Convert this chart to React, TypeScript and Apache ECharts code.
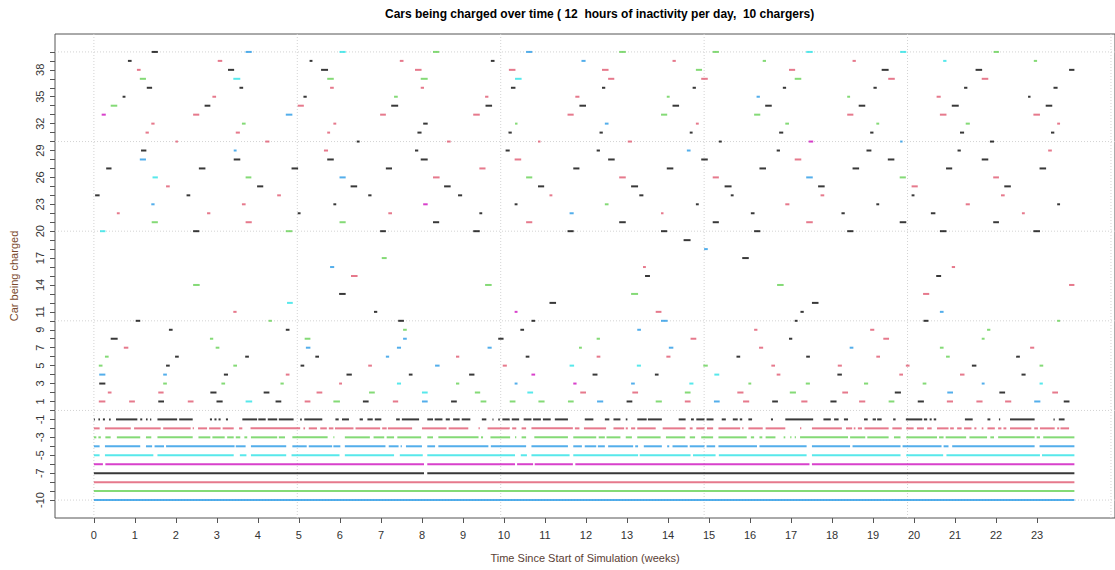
import React, { useEffect, useRef } from "react";
import * as echarts from "echarts";

// ---------- data (weeks since start) ----------
// [car, start, end, colour key]
const carsGroupA: [number, number, number, string][] = [
  [1,0.12,0.28,'r'],[1,0.86,1.00,'r'],[1,1.57,1.71,'k'],[1,2.29,2.43,'r'],[1,2.99,3.14,'k'],[1,3.70,3.86,'c'],[1,4.43,4.57,'k'],[1,5.14,5.28,'r'],[1,5.84,6.00,'g'],[1,6.56,6.70,'k'],[1,7.29,7.42,'r'],[1,8.00,8.14,'b'],[1,8.71,8.85,'k'],[1,9.43,9.57,'g'],[1,10.14,10.28,'g'],[1,10.84,10.99,'g'],[1,11.56,11.70,'g'],[1,12.27,12.42,'b'],[1,12.99,13.13,'k'],[1,13.70,13.85,'g'],[1,14.41,14.55,'r'],[1,15.12,15.26,'b'],[1,15.83,15.98,'r'],[1,16.54,16.68,'k'],[1,17.25,17.40,'r'],[1,17.96,18.11,'k'],[1,18.66,18.81,'r'],[1,19.38,19.52,'g'],[1,20.09,20.24,'k'],[1,20.80,20.95,'r'],[1,21.52,21.67,'r'],[1,22.22,22.37,'r'],[1,22.93,23.08,'b'],[1,23.65,23.79,'k'],
  [2,0.34,0.43,'r'],[2,1.57,1.70,'r'],[2,2.84,2.99,'k'],[2,4.14,4.28,'k'],[2,5.43,5.57,'r'],[2,6.71,6.85,'g'],[2,8.00,8.14,'c'],[2,9.29,9.42,'g'],[2,10.57,10.71,'c'],[2,11.86,12.00,'r'],[2,13.13,13.27,'r'],[2,14.41,14.55,'g'],[2,15.69,15.84,'r'],[2,16.97,17.12,'g'],[2,18.25,18.39,'r'],[2,19.53,19.68,'k'],[2,20.81,20.95,'b'],[2,22.08,22.22,'k'],[2,23.37,23.51,'r'],
  [3,0.13,0.28,'k'],[3,1.69,1.78,'g'],[3,3.11,3.20,'g'],[3,4.55,4.63,'g'],[3,5.98,6.05,'r'],[3,7.39,7.49,'c'],[3,8.83,8.91,'g'],[3,10.26,10.33,'b'],[3,11.69,11.77,'m'],[3,13.10,13.19,'b'],[3,14.52,14.62,'c'],[3,15.96,16.03,'g'],[3,17.36,17.46,'g'],[3,18.78,18.88,'g'],[3,20.21,20.30,'g'],[3,21.65,21.72,'b'],[3,23.06,23.14,'c'],
  [4,0.13,0.28,'b'],[4,1.69,1.78,'b'],[4,3.17,3.27,'k'],[4,4.68,4.77,'r'],[4,6.16,6.29,'k'],[4,7.68,7.77,'k'],[4,9.15,9.28,'k'],[4,10.67,10.76,'m'],[4,12.16,12.28,'k'],[4,13.68,13.77,'k'],[4,15.13,15.25,'c'],[4,16.65,16.74,'r'],[4,18.13,18.24,'k'],[4,19.64,19.73,'r'],[4,21.12,21.23,'r'],[4,22.62,22.72,'k'],
  [5,0.12,0.21,'g'],[5,1.76,1.85,'k'],[5,3.40,3.49,'g'],[5,5.04,5.13,'k'],[5,6.69,6.78,'r'],[5,8.32,8.43,'b'],[5,9.97,10.07,'r'],[5,11.60,11.71,'c'],[5,13.24,13.34,'c'],[5,14.86,14.97,'g'],[5,16.52,16.61,'r'],[5,18.14,18.24,'r'],[5,19.80,19.89,'r'],[5,21.41,21.52,'k'],[5,23.06,23.15,'g'],
  [6,0.27,0.36,'g'],[6,1.98,2.07,'k'],[6,3.69,3.78,'k'],[6,5.40,5.49,'k'],[6,7.12,7.20,'b'],[6,8.83,8.91,'r'],[6,10.53,10.62,'k'],[6,12.26,12.35,'r'],[6,13.96,14.06,'r'],[6,15.67,15.76,'k'],[6,17.37,17.46,'k'],[6,19.08,19.17,'r'],[6,20.78,20.87,'g'],[6,22.49,22.58,'k'],
  [7,0.73,0.84,'r'],[7,2.97,3.06,'g'],[7,5.17,5.28,'b'],[7,7.39,7.49,'b'],[7,9.60,9.70,'b'],[7,11.83,11.90,'g'],[7,14.02,14.13,'b'],[7,16.22,16.32,'r'],[7,18.43,18.52,'b'],[7,20.63,20.72,'g'],[7,22.83,22.93,'r'],
  [8,0.41,0.58,'k'],[8,2.83,2.91,'g'],[8,5.14,5.28,'g'],[8,7.54,7.63,'b'],[8,9.86,9.99,'k'],[8,12.26,12.34,'g'],[8,14.55,14.69,'r'],[8,16.95,17.03,'k'],[8,19.25,19.39,'r'],[8,21.65,21.72,'g'],
  [9,1.83,1.92,'k'],[9,4.68,4.77,'k'],[9,7.54,7.63,'g'],[9,10.40,10.49,'k'],[9,13.25,13.34,'b'],[9,16.10,16.18,'r'],[9,18.93,19.03,'r'],[9,21.78,21.86,'g'],
  [10,1.02,1.13,'k'],[10,4.26,4.34,'g'],[10,7.42,7.56,'k'],[10,10.67,10.76,'k'],[10,13.83,13.99,'b'],[10,17.09,17.16,'k'],[10,20.23,20.35,'k'],[10,23.49,23.56,'g'],
];

const carsGroupB: [number, number, number, string][] = [
  [11,3.40,3.48,'r'],[11,6.83,6.91,'k'],[11,10.26,10.33,'m'],[11,13.70,13.84,'r'],[11,17.23,17.31,'k'],[11,20.63,20.72,'b'],
  [12,4.71,4.85,'c'],[12,11.11,11.27,'k'],[12,17.51,17.67,'k'],
  [13,5.98,6.14,'k'],[13,13.10,13.27,'g'],[13,20.22,20.37,'r'],
  [14,2.42,2.58,'g'],[14,9.54,9.70,'g'],[14,16.66,16.82,'g'],[14,23.78,23.91,'r'],
  [15,6.27,6.43,'r'],[15,13.44,13.56,'k'],[15,20.54,20.66,'k'],
  [16,5.76,5.86,'b'],[16,13.39,13.46,'r'],[16,20.92,21.00,'r'],
  [17,7.02,7.14,'g'],[17,15.81,15.97,'k'],
  [18,14.88,14.97,'b'],
  [19,14.38,14.55,'k'],
  [20,0.15,0.28,'c'],[20,2.42,2.57,'k'],[20,4.68,4.84,'g'],[20,6.98,7.12,'k'],[20,9.25,9.41,'k'],[20,11.55,11.70,'k'],[20,13.83,13.98,'k'],[20,16.10,16.25,'k'],[20,18.37,18.52,'k'],[20,20.63,20.79,'k'],[20,22.91,23.07,'k'],
];

const carsGroupC: [number, number, number, string][] = [
  [21,1.41,1.56,'g'],[21,3.70,3.85,'r'],[21,5.99,6.14,'g'],[21,8.27,8.42,'k'],[21,10.54,10.69,'r'],[21,12.81,12.97,'k'],[21,15.09,15.24,'k'],[21,17.37,17.53,'r'],[21,19.65,19.81,'k'],[21,21.93,22.07,'k'],
  [22,0.56,0.63,'r'],[22,2.76,2.84,'r'],[22,4.97,5.04,'k'],[22,7.18,7.27,'r'],[22,9.40,9.47,'k'],[22,11.60,11.70,'b'],[22,13.83,13.89,'r'],[22,16.02,16.11,'k'],[22,18.23,18.31,'k'],[22,20.41,20.52,'k'],[22,22.63,22.70,'r'],
  [23,1.40,1.48,'b'],[23,3.61,3.70,'r'],[23,5.84,5.91,'k'],[23,8.03,8.14,'m'],[23,10.26,10.33,'k'],[23,12.46,12.55,'g'],[23,14.68,14.75,'k'],[23,16.86,16.96,'r'],[23,19.08,19.15,'k'],[23,21.26,21.36,'r'],[23,23.49,23.56,'k'],
  [24,0.03,0.14,'k'],[24,2.26,2.35,'k'],[24,4.47,4.56,'r'],[24,6.69,6.77,'k'],[24,8.88,8.98,'k'],[24,11.11,11.18,'r'],[24,13.30,13.40,'k'],[24,15.53,15.60,'k'],[24,17.72,17.81,'r'],[24,19.94,20.01,'k'],[24,22.12,22.21,'r'],
  [25,1.76,1.85,'r'],[25,3.98,4.13,'k'],[25,6.26,6.42,'k'],[25,8.54,8.70,'k'],[25,10.83,10.98,'k'],[25,13.10,13.27,'k'],[25,15.38,15.55,'k'],[25,17.66,17.82,'k'],[25,19.94,20.09,'r'],[25,22.20,22.36,'k'],
  [26,1.43,1.56,'c'],[26,3.70,3.84,'g'],[26,5.99,6.14,'b'],[26,8.27,8.43,'r'],[26,10.54,10.69,'g'],[26,12.81,12.97,'r'],[26,15.09,15.24,'r'],[26,17.37,17.53,'b'],[26,19.65,19.80,'g'],[26,21.93,22.07,'r'],
  [27,0.30,0.43,'k'],[27,2.56,2.72,'k'],[27,4.82,4.98,'k'],[27,7.12,7.27,'k'],[27,9.40,9.55,'r'],[27,11.69,11.84,'k'],[27,13.97,14.13,'k'],[27,16.23,16.39,'k'],[27,18.50,18.66,'k'],[27,20.78,20.93,'k'],[27,23.06,23.22,'k'],
  [28,1.12,1.27,'b'],[28,3.41,3.57,'k'],[28,5.69,5.85,'k'],[28,7.97,8.14,'k'],[28,10.26,10.42,'r'],[28,12.54,12.70,'k'],[28,14.81,14.97,'k'],[28,17.09,17.25,'r'],[28,19.36,19.52,'k'],[28,21.65,21.81,'k'],
  [29,1.15,1.28,'k'],[29,3.41,3.48,'b'],[29,5.61,5.71,'r'],[29,7.83,7.91,'k'],[29,10.04,10.14,'k'],[29,12.26,12.34,'k'],[29,14.46,14.55,'b'],[29,16.65,16.73,'k'],[29,18.84,18.96,'k'],[29,21.06,21.14,'k'],[29,23.27,23.36,'r'],
  [30,1.99,2.05,'r'],[30,4.18,4.28,'r'],[30,6.41,6.48,'k'],[30,8.61,8.70,'r'],[30,10.83,10.89,'r'],[30,13.02,13.12,'r'],[30,15.24,15.31,'k'],[30,17.43,17.54,'m'],[30,19.66,19.72,'b'],[30,21.85,21.95,'k'],
];

const carsGroupD: [number, number, number, string][] = [
  [31,1.26,1.34,'r'],[31,3.46,3.56,'r'],[31,5.69,5.76,'r'],[31,7.89,7.99,'k'],[31,10.11,10.19,'k'],[31,12.33,12.41,'k'],[31,14.53,14.60,'k'],[31,16.71,16.81,'k'],[31,18.93,19.01,'k'],[31,21.12,21.22,'k'],[31,23.34,23.42,'k'],
  [32,1.40,1.48,'r'],[32,3.61,3.70,'g'],[32,5.84,5.91,'r'],[32,8.03,8.14,'k'],[32,10.27,10.33,'g'],[32,12.46,12.55,'b'],[32,14.68,14.75,'r'],[32,16.86,16.95,'g'],[32,19.08,19.15,'g'],[32,21.26,21.36,'g'],[32,23.49,23.56,'r'],
  [33,0.19,0.29,'m'],[33,2.42,2.57,'r'],[33,4.68,4.84,'b'],[33,6.98,7.12,'r'],[33,9.25,9.41,'r'],[33,11.55,11.70,'r'],[33,13.83,13.98,'g'],[33,16.10,16.25,'g'],[33,18.37,18.52,'r'],[33,20.63,20.79,'r'],[33,22.91,23.07,'r'],
  [34,0.41,0.57,'g'],[34,2.70,2.84,'k'],[34,4.97,5.12,'r'],[34,7.25,7.42,'k'],[34,9.55,9.71,'k'],[34,11.84,12.00,'k'],[34,14.11,14.27,'k'],[34,16.37,16.53,'k'],[34,18.65,18.81,'k'],[34,20.92,21.09,'k'],[34,23.21,23.37,'k'],
  [35,0.70,0.77,'k'],[35,2.89,2.98,'r'],[35,5.11,5.19,'k'],[35,7.32,7.41,'g'],[35,9.54,9.62,'r'],[35,11.74,11.84,'r'],[35,13.97,14.04,'g'],[35,16.16,16.24,'b'],[35,18.37,18.44,'g'],[35,20.55,20.65,'r'],[35,22.78,22.84,'k'],
  [36,1.29,1.42,'k'],[36,3.55,3.64,'k'],[36,5.76,5.85,'r'],[36,7.97,8.05,'r'],[36,10.17,10.28,'k'],[36,12.39,12.47,'k'],[36,14.60,14.68,'k'],[36,16.80,16.88,'k'],[36,19.01,19.09,'k'],[36,21.22,21.30,'k'],[36,23.40,23.50,'k'],
  [37,1.12,1.27,'g'],[37,3.40,3.57,'c'],[37,5.69,5.85,'g'],[37,7.97,8.14,'g'],[37,10.27,10.43,'c'],[37,12.54,12.69,'r'],[37,14.81,14.97,'r'],[37,17.09,17.25,'g'],[37,19.37,19.53,'r'],[37,21.65,21.81,'r'],
  [38,1.05,1.14,'r'],[38,3.27,3.42,'k'],[38,5.54,5.71,'k'],[38,7.83,7.99,'r'],[38,10.12,10.28,'r'],[38,12.39,12.55,'r'],[38,14.68,14.83,'g'],[38,16.95,17.10,'r'],[38,19.21,19.38,'k'],[38,21.50,21.66,'k'],[38,23.78,23.91,'k'],
  [39,0.83,0.92,'k'],[39,3.02,3.13,'r'],[39,5.26,5.33,'k'],[39,7.46,7.55,'r'],[39,9.68,9.77,'k'],[39,11.89,11.99,'b'],[39,14.11,14.19,'r'],[39,16.31,16.39,'g'],[39,18.50,18.58,'r'],[39,20.71,20.79,'c'],[39,22.92,23.00,'g'],
  [40,1.41,1.56,'k'],[40,3.70,3.85,'b'],[40,5.99,6.14,'c'],[40,8.27,8.42,'g'],[40,10.54,10.69,'b'],[40,12.81,12.97,'g'],[40,15.09,15.24,'g'],[40,17.37,17.53,'c'],[40,19.66,19.81,'c'],[40,21.94,22.07,'g'],
];

// charger busy periods [start, end] (weeks); charger k is drawn at y = -k
const charger1: [number, number][] = [[0,0.02],[0.11,0.15],[0.22,0.27],[0.37,0.41],[0.54,1.06],[1.13,1.18],[1.27,1.31],[1.37,1.40],[1.55,2.03],[2.08,2.41],[2.83,2.88],[2.94,2.99],[3.04,3.09],[3.22,3.27],[3.62,3.98],[4.01,4.19],[4.24,4.47],[4.51,4.87],[5.03,5.07],[5.13,5.57],[5.89,5.97],[6.05,6.22],[6.48,6.56],[6.67,6.80],[6.85,7.01],[7.37,7.46],[7.51,7.93],[8.13,8.27],[8.31,8.50],[8.58,8.68],[8.76,8.92],[8.97,9.18],[9.46,9.57],[9.72,9.74],[9.86,9.90],[9.96,10.14],[10.19,10.37],[10.48,10.67],[10.71,10.90],[10.95,11.14],[11.24,11.56],[11.97,12.18],[12.46,12.57],[12.67,12.84],[12.97,13.01],[13.25,13.48],[13.51,13.85],[14.26,14.43],[14.56,14.63],[14.69,14.89],[14.94,15.11],[15.31,15.41],[15.58,15.70],[15.75,15.81],[15.96,16.05],[16.51,16.56],[16.86,17.54],[17.79,17.97],[18.05,18.16],[18.29,18.39],[18.78,18.87],[18.99,19.07],[19.10,19.21],[19.49,19.55],[19.80,20.20],[20.24,20.32],[20.38,20.43],[20.48,20.54],[21.24,21.43],[21.79,21.86],[22.07,22.10],[22.34,22.94],[23.40,23.43],[23.53,23.67]];
const charger2: [number, number][] = [[0,0.14],[0.27,0.90],[0.98,1.63],[1.69,2.36],[2.41,2.44],[2.54,2.76],[2.81,3.09],[3.14,3.41],[3.54,3.62],[3.82,5.03],[5.11,5.15],[5.24,5.44],[5.52,5.68],[5.73,5.84],[5.88,6.33],[6.38,6.98],[7.03,7.14],[7.17,7.76],[8.00,8.60],[8.65,9.13],[9.38,9.41],[9.60,10.14],[10.20,10.30],[10.43,10.54],[10.67,11.68],[11.73,11.84],[11.95,12.49],[12.67,12.93],[12.97,13.02],[13.10,13.20],[13.25,13.70],[13.87,14.43],[14.53,14.60],[14.69,14.89],[14.95,15.10],[15.23,15.76],[15.81,15.84],[15.96,16.31],[16.38,16.86],[17.22,17.25],[17.51,18.24],[18.34,18.49],[18.53,18.57],[18.63,18.73],[18.79,19.38],[19.47,19.70],[19.81,19.99],[20.07,20.24],[20.32,20.43],[20.56,20.84],[20.88,20.97],[21.05,21.16],[21.22,21.40],[21.47,21.52],[21.65,21.69],[21.79,21.97],[22.05,22.13],[22.18,22.25],[22.34,22.86],[22.93,23.02],[23.07,23.43],[23.49,23.54],[23.57,23.78]];
const charger3: [number, number][] = [[0,0.06],[0.11,0.17],[0.28,0.41],[0.56,1.13],[1.27,1.40],[1.55,2.41],[2.55,2.84],[2.89,3.19],[3.25,3.41],[3.46,3.57],[3.67,3.74],[3.83,4.47],[4.51,4.66],[4.84,5.70],[5.84,5.86],[6.12,6.73],[6.82,7.08],[7.14,7.32],[7.40,7.98],[8.13,8.27],[8.40,9.38],[9.44,9.49],[9.67,10.15],[10.27,10.30],[10.43,10.54],[10.74,11.56],[11.69,12.25],[12.31,12.46],[12.50,12.84],[12.97,13.12],[13.25,13.82],[13.95,14.42],[14.53,14.66],[14.81,15.10],[15.23,15.92],[16.02,16.10],[16.23,16.30],[16.38,16.62],[16.82,16.86],[16.98,17.01],[17.09,17.12],[17.22,18.39],[18.44,18.81],[18.86,19.38],[19.51,19.67],[19.81,20.56],[20.61,20.72],[20.77,21.27],[21.35,21.78],[21.86,21.95],[22.05,22.94],[22.99,23.07],[23.15,23.91]];
const charger4: [number, number][] = [[0,0.14],[0.27,1.13],[1.27,1.42],[1.48,1.71],[1.76,3.43],[3.46,3.70],[3.83,4.69],[4.84,5.19],[5.24,5.81],[5.84,6.01],[6.12,7.11],[7.19,7.43],[7.48,7.51],[7.61,8.00],[8.13,8.32],[8.40,9.62],[9.68,10.54],[10.67,11.56],[11.69,11.90],[11.97,12.25],[12.29,12.46],[12.54,13.15],[13.20,13.27],[13.41,13.85],[13.98,14.03],[14.11,14.48],[14.53,14.89],[14.94,15.15],[15.23,16.17],[16.23,17.38],[17.51,18.44],[18.50,19.67],[19.72,20.67],[20.72,20.84],[20.93,22.94],[23.06,23.91]];
const charger5: [number, number][] = [[0,0.14],[0.27,1.45],[1.55,3.41],[3.56,3.72],[3.83,4.69],[4.82,5.99],[6.12,7.32],[7.46,8.02],[8.13,10.27],[10.41,10.56],[10.67,11.60],[11.69,13.27],[13.31,14.55],[14.61,15.16],[15.24,17.38],[17.51,19.67],[19.81,20.71],[20.79,23.07],[23.12,23.91]];
const charger6: [number, number][] = [[0,0.22],[0.28,8.05],[8.13,10.27],[10.32,10.71],[10.75,11.68],[11.74,17.45],[17.51,23.91]];
const charger7: [number, number][] = [[0,8.05],[8.13,23.91]];
const charger8: [number, number][] = [[0,23.91]];
const charger9: [number, number][] = [[0,23.91]];
const charger10: [number, number][] = [[0,23.91]];

const chargers = [charger1, charger2, charger3, charger4, charger5, charger6, charger7, charger8, charger9, charger10];
const chargerColourKeys = ['k', 'r', 'g', 'b', 'c', 'm', 'k', 'r', 'g', 'b'];

const weekTicks = Array.from({ length: 24 }, (_, i) => i); // 0..23
const yTicks = Array.from({ length: 51 }, (_, i) => i - 10); // -10..40
const yLabels = [-10, -7, -5, -3, -1, 1, 3, 5, 7, 9, 11, 14, 17, 20, 23, 26, 29, 32, 35, 38];
const gridMinutes = [0, 50000, 100000, 150000, 200000, 250000];
const gridY = [-10, 0, 10, 20, 30, 40];

const PALETTE: Record<string, string> = {
  k: '#000000', r: '#DF536B', g: '#61D04F', b: '#2297E6', c: '#28E2E5', m: '#CD0BBC',
};

const FONT = "'Liberation Sans', Arial, Helvetica, sans-serif";
const X_MIN = -0.948;
const X_MAX = 24.9;
const Y_MIN = -12;
const Y_MAX = 42;

export default function App() {
  const ref = useRef<HTMLDivElement>(null);
  useEffect(() => {
    if (!ref.current) return;
    const chart = echarts.init(ref.current, undefined, { renderer: 'svg' });

    const byColour: Record<string, number[][]> = { k: [], r: [], g: [], b: [], c: [], m: [] };
    [...carsGroupA, ...carsGroupB, ...carsGroupC, ...carsGroupD].forEach(([car, s, e, col]) => {
      byColour[col].push([s, e, car]);
    });
    chargers.forEach((list, idx) => {
      list.forEach(([s, e]) => byColour[chargerColourKeys[idx]].push([s, e, -(idx + 1)]));
    });

    const segSeries = Object.keys(byColour).map((key) => ({
      type: 'custom',
      name: key,
      coordinateSystem: 'cartesian2d',
      encode: { x: [0, 1], y: 2 },
      clip: true,
      z: 3,
      data: byColour[key],
      renderItem: (_p: any, api: any) => {
        const p1 = api.coord([api.value(0), api.value(2)]);
        const p2 = api.coord([api.value(1), api.value(2)]);
        return {
          type: 'line',
          shape: { x1: p1[0], y1: p1[1], x2: Math.max(p2[0], p1[0] + 1), y2: p2[1] },
          style: { stroke: PALETTE[key], lineWidth: 2, opacity: 0.78 },
        };
      },
    }));

    const gridData = [
      ...gridMinutes.map((m) => [0, m / 10080]),
      ...gridY.map((y) => [1, y]),
    ];

    const gridSeries = {
      type: 'custom',
      coordinateSystem: 'cartesian2d',
      silent: true,
      z: 1,
      data: gridData,
      encode: { x: 1 },
      renderItem: (_p: any, api: any) => {
        const kind = api.value(0);
        const v = api.value(1);
        let a, b;
        if (kind === 0) {
          a = api.coord([v, Y_MIN]);
          b = api.coord([v, Y_MAX]);
        } else {
          a = api.coord([X_MIN, v]);
          b = api.coord([X_MAX, v]);
        }
        return {
          type: 'line',
          shape: { x1: a[0], y1: a[1], x2: b[0], y2: b[1] },
          style: { stroke: '#d3d3d3', lineWidth: 1, lineDash: [1, 2] },
        };
      },
    };

    chart.setOption({
      animation: false,
      backgroundColor: '#ffffff',
      textStyle: { fontFamily: FONT },
      title: {
        text: 'Cars being charged over time ( 12  hours of inactivity per day,  10 chargers)',
        left: 380,
        top: 3,
        textStyle: { fontFamily: FONT, fontSize: 12, fontWeight: 'bold', color: '#000' },
      },
      grid: {
        left: 54, right: -2, top: 34, bottom: 52,
        show: true, borderColor: '#555', borderWidth: 1, backgroundColor: 'transparent',
      },
      xAxis: {
        type: 'value',
        min: X_MIN,
        max: X_MAX,
        splitLine: { show: false },
        axisLine: { show: false, onZero: false },
        axisTick: { show: true, customValues: weekTicks, length: 5, lineStyle: { color: '#555' } },
        axisLabel: { customValues: weekTicks, margin: 11, fontSize: 11, color: '#333', fontFamily: FONT },
        name: 'Time Since Start of Simulation (weeks)',
        nameLocation: 'middle',
        nameGap: 34,
        nameTextStyle: { fontSize: 11, color: '#5a4034', fontFamily: FONT },
      },
      yAxis: {
        type: 'value',
        min: Y_MIN,
        max: Y_MAX,
        splitLine: { show: false },
        axisLine: { show: false, onZero: false },
        axisTick: { show: true, customValues: yTicks, length: 5, lineStyle: { color: '#555' } },
        axisLabel: { customValues: yLabels, rotate: 90, margin: 10, fontSize: 11, color: '#333', fontFamily: FONT },
        name: 'Car being charged',
        nameLocation: 'middle',
        nameGap: 36,
        nameTextStyle: { fontSize: 11, color: '#7a4a2e', fontFamily: FONT },
      },
      series: [gridSeries, ...segSeries],
    });

    return () => chart.dispose();
  }, []);

  return (
    <div
      ref={ref}
      style={{ position: 'fixed', left: 0, top: 0, width: 1115, height: 570, background: '#fff' }}
    />
  );
}
